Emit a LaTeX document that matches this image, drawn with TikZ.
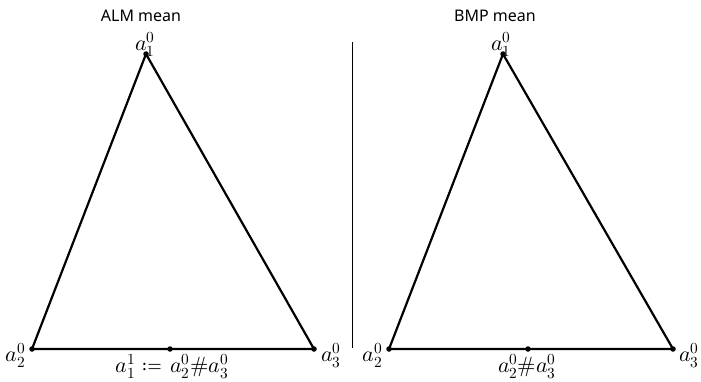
\documentclass[tikz,border=0pt]{standalone}
\usepackage{fontspec}
\setmainfont{Noto Sans}
\usepackage{unicode-math}
\begin{document}
\begin{tikzpicture}[x=1pt,y=-1pt,
  edge/.style={line width=2.2pt},
  vdot/.style={circle,fill=black,inner sep=0pt,minimum size=5.5pt},
  lbl/.style={font=\fontsize{22}{26}\selectfont,inner sep=1pt},
  ttl/.style={font=\fontsize{16}{19}\selectfont}]
\useasboundingbox (0,0) rectangle (701,381);
% titles
\node[ttl] (t1) at (141,16) {ALM mean};
\node[ttl] (t2) at (495,16) {BMP mean};
% separator
\coordinate (s1) at (352,42);
\coordinate (s2) at (352,348);
\draw[line width=0.8pt] (s1) -- (s2);
% left triangle
\node[vdot] (A1) at (146,54) {};
\node[vdot] (A2) at (32,349) {};
\node[vdot] (A3) at (314,349) {};
\node[vdot] (AM) at (170,349) {};
\draw[edge,line join=round] (A1.center) -- (A2.center) -- (A3.center) -- cycle;
\node[lbl,anchor=south] (LA1) at (145,58) {$a_1^0$};
\node[lbl,anchor=north east] (LA2) at (27,342) {$a_2^0$};
\node[lbl,anchor=north west] (LA3) at (320,342) {$a_3^0$};
\node[lbl,anchor=north] (LAM) at (172,353) {$a_1^1\mskip6mu{\coloneq}\mskip6mu a_2^0{\#}a_3^0$};
% right triangle
\node[vdot] (B1) at (503,54) {};
\node[vdot] (B2) at (389,349) {};
\node[vdot] (B3) at (673,349) {};
\node[vdot] (BM) at (528,349) {};
\draw[edge,line join=round] (B1.center) -- (B2.center) -- (B3.center) -- cycle;
\node[lbl,anchor=south] (LB1) at (501,58) {$a_1^0$};
\node[lbl,anchor=north east] (LB2) at (384,342) {$a_2^0$};
\node[lbl,anchor=north west] (LB3) at (678,342) {$a_3^0$};
\node[lbl,anchor=north] (LBM) at (527,353) {$a_2^0{\#}a_3^0$};
\end{tikzpicture}
\end{document}
